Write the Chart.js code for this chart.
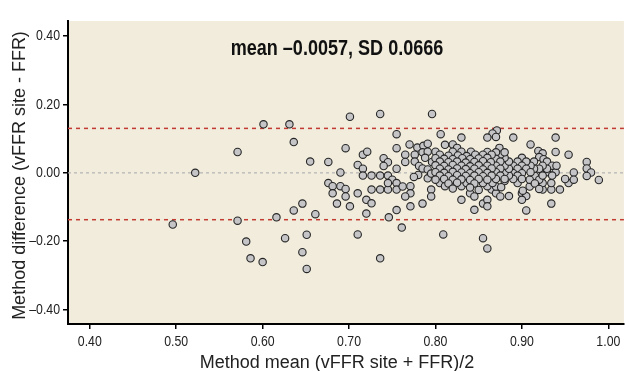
<!DOCTYPE html>
<html>
<head>
<meta charset="utf-8">
<title>Bland-Altman vFFR vs FFR</title>
<script src="https://cdn.jsdelivr.net/npm/chart.js@4/dist/chart.umd.min.js"></script>
<style>
  html, body { margin: 0; padding: 0; background: #fff; }
  .chart-frame { position: relative; width: 629px; height: 371px; }
</style>
</head>
<body>
<div class="chart-frame"><canvas id="baChart"></canvas></div>
<script>
// axis ticks and limits
const xTicks = [0.40, 0.50, 0.60, 0.70, 0.80, 0.90, 1.00];
const yTicks = [-0.40, -0.20, 0.00, 0.20, 0.40];
const xRange = [0.3748, 1.018];
const yRange = [-0.442, 0.444];

// reference lines: zero line and limits of agreement
const zeroLine = 0.0;
const limits = [0.130, -0.137];
const statsLabel = 'mean \u20130.0057, SD 0.0666';
const xTitle = 'Method mean (vFFR site + FFR)/2';
const yTitle = 'Method difference (vFFR site - FFR)';

// [mean, difference] pairs
const lowRangePoints = [
  [0.496,-0.151],[0.522,0.000],[0.571,0.061],[0.571,-0.140],[0.581,-0.201],[0.586,-0.250],
  [0.600,-0.261],[0.601,0.142],[0.616,-0.130],[0.626,-0.191],[0.631,0.142],[0.636,0.090],
  [0.636,-0.110],[0.646,-0.090],[0.646,-0.232],[0.651,-0.181],[0.651,-0.281],[0.655,0.033],
  [0.661,-0.121]
];

const midRangePoints = [
  [0.701,0.164],[0.736,0.172],[0.796,0.172],[0.755,0.113],[0.806,0.113],[0.830,0.103],
  [0.696,0.072],[0.755,0.072],[0.770,0.083],[0.779,0.074],[0.786,0.079],[0.791,0.085],
  [0.785,0.060],[0.791,0.062],[0.811,0.082],[0.820,0.083],[0.825,0.073],
  [0.716,0.053],[0.721,0.062],[0.676,0.032],[0.710,0.023],[0.716,0.012],[0.740,0.043],
  [0.745,0.031],[0.740,0.020],[0.765,0.053],[0.765,0.032],[0.776,0.053],[0.776,0.033],
  [0.781,0.020],[0.690,0.001],[0.755,0.012],[0.716,-0.008],[0.726,-0.008],[0.736,-0.008],
  [0.745,-0.008],[0.785,0.013],[0.791,0.010],[0.791,-0.016],[0.780,-0.006],[0.750,-0.020],
  [0.775,-0.012],[0.796,0.032],[0.795,-0.002],[0.788,0.044],
  [0.676,-0.030],[0.681,-0.039],[0.690,-0.039],[0.696,-0.047],[0.681,-0.060],[0.696,-0.069],
  [0.686,-0.090],[0.701,-0.098],[0.710,-0.060],[0.720,-0.079],[0.726,-0.089],[0.720,-0.119],
  [0.726,-0.049],[0.736,-0.049],[0.745,-0.049],[0.745,-0.030],[0.755,-0.030],[0.755,-0.049],
  [0.762,-0.040],[0.771,-0.039],[0.771,-0.060],[0.765,-0.069],[0.771,-0.098],[0.755,-0.109],
  [0.746,-0.130],[0.761,-0.160],[0.710,-0.180],[0.736,-0.250],[0.809,-0.180],[0.785,-0.090],
  [0.795,-0.049],[0.795,-0.069],[0.805,-0.030],[0.811,-0.039],[0.830,-0.039],[0.830,-0.079]
];

const lowerBandPoints = [
  [0.840,-0.060],[0.845,-0.069],[0.855,-0.090],[0.860,-0.079],[0.860,-0.098],[0.845,-0.108],
  [0.855,-0.191],[0.860,-0.221],[0.865,-0.049],[0.870,-0.060],[0.875,-0.069],[0.885,-0.068],
  [0.900,-0.060],[0.905,-0.068],[0.900,-0.079],[0.905,-0.110],[0.909,-0.040],[0.924,-0.049],
  [0.934,-0.049],[0.944,-0.049],[0.934,-0.090],[0.924,-0.030],[0.934,-0.030],[0.954,-0.030],
  [0.989,-0.021],[0.860,-0.039],[0.870,-0.040],[0.866,-0.030],[0.855,-0.030],[0.836,-0.030],
  [0.895,-0.030],[0.914,-0.027],[0.880,-0.024]
];

const highRangePoints = [
  [0.871,0.124],[0.866,0.115],[0.860,0.103],[0.870,0.105],[0.890,0.103],[0.939,0.103],
  [0.910,0.083],[0.874,0.073],[0.919,0.064],[0.939,0.061],[0.954,0.053],[0.924,0.057],
  [0.920,0.046],[0.925,0.040],[0.975,0.032],[0.975,0.013],[0.980,0.001],[0.975,-0.009],
  [0.960,0.001],[0.950,-0.018],[0.960,-0.020],[0.929,0.002],[0.939,0.002],[0.915,-0.009],
  [0.920,-0.020],[0.909,-0.020],[0.915,-0.031],[0.901,-0.052],
  [0.900,0.044],[0.914,0.033],[0.929,0.033],[0.935,0.021],[0.940,0.021],[0.929,0.012],
  [0.924,0.021],[0.920,0.012],[0.914,0.012],[0.910,0.021],[0.905,0.033],[0.895,0.033],
  [0.900,0.021],[0.890,0.021],[0.895,0.012],[0.905,0.012],[0.910,0.002],[0.900,-0.001],
  [0.890,-0.001],[0.924,-0.008],[0.935,-0.008],[0.895,-0.008],[0.890,-0.018],[0.900,-0.018],
  [0.885,-0.008],[0.880,0.002],[0.885,0.012],[0.880,0.021],[0.885,0.033],[0.880,0.044],
  [0.875,0.053],[0.880,0.060],[0.870,0.060],[0.870,0.041],[0.875,0.033],[0.870,0.021],
  [0.875,0.012],[0.870,0.002],[0.875,-0.008],[0.870,-0.018],[0.880,-0.018],[0.876,-0.042],
  [0.920,-0.047]
];

const corePoints = [
  [0.800,0.062],[0.820,0.062],[0.830,0.062],[0.841,0.062],[0.860,0.061],
  [0.805,0.053],[0.815,0.050],[0.826,0.051],[0.836,0.049],[0.846,0.053],[0.855,0.053],[0.865,0.053],
  [0.800,0.043],[0.810,0.041],[0.820,0.040],[0.831,0.043],[0.840,0.040],[0.850,0.042],[0.860,0.044],
  [0.805,0.033],[0.815,0.031],[0.825,0.033],[0.835,0.030],[0.845,0.032],[0.855,0.034],[0.864,0.031],
  [0.800,0.022],[0.810,0.020],[0.820,0.023],[0.830,0.021],[0.840,0.019],[0.850,0.022],[0.860,0.021],
  [0.805,0.012],[0.815,0.010],[0.825,0.013],[0.835,0.011],[0.845,0.012],[0.855,0.010],[0.865,0.013],
  [0.800,0.002],[0.810,0.000],[0.820,0.003],[0.830,0.001],[0.840,-0.001],[0.850,0.002],[0.860,0.000],
  [0.805,-0.008],[0.815,-0.010],[0.825,-0.007],[0.835,-0.009],[0.845,-0.008],[0.855,-0.010],[0.865,-0.008],
  [0.800,-0.020],[0.810,-0.018],[0.820,-0.020],[0.830,-0.019],[0.840,-0.021],[0.850,-0.018],[0.860,-0.020],
  [0.815,-0.031],[0.825,-0.029],[0.845,-0.031],
  [0.820,-0.046],[0.840,-0.043],[0.850,-0.050]
];

const allPoints = [...lowRangePoints, ...midRangePoints, ...lowerBandPoints, ...highRangePoints, ...corePoints];

const plainFont = "'Liberation Sans', Arial, sans-serif";
const NARROW = 0.82; // no narrow face installed, so squeeze Liberation Sans

const fmt = v => (v < -0.0001 ? '\u2013' : '') + Math.abs(v).toFixed(2);

function hLine(value, color, dash, width) {
  return {
    type: 'line',
    data: [{ x: xRange[0], y: value }, { x: xRange[1], y: value }],
    borderColor: color,
    borderWidth: width,
    borderDash: dash,
    pointRadius: 0,
    fill: false,
    order: 1
  };
}

function narrowText(ctx, text, x, y, align) {
  ctx.save();
  ctx.translate(x, y);
  ctx.scale(NARROW, 1);
  ctx.textAlign = align;
  ctx.fillText(text, 0, 0);
  ctx.restore();
}

const plotBackground = {
  id: 'plotBackground',
  beforeDraw(chart) {
    const { ctx, chartArea: a } = chart;
    ctx.save();
    ctx.fillStyle = '#f1ecdc';
    ctx.fillRect(a.left, a.top, a.right - a.left, a.bottom - a.top);
    ctx.restore();
  }
};

const plotText = {
  id: 'plotText',
  afterDraw(chart) {
    const { ctx, chartArea: a, scales } = chart;
    ctx.save();

    // tick labels
    ctx.fillStyle = '#222';
    ctx.font = '15px ' + plainFont;
    ctx.textBaseline = 'middle';
    xTicks.forEach(v => narrowText(ctx, fmt(v), scales.x.getPixelForValue(v), a.bottom + 18, 'center'));
    yTicks.forEach(v => narrowText(ctx, fmt(v), a.left - 8, scales.y.getPixelForValue(v), 'right'));

    // stats label
    ctx.fillStyle = '#111';
    ctx.font = 'bold 22px ' + plainFont;
    ctx.textBaseline = 'alphabetic';
    narrowText(ctx, statsLabel, 337, 55, 'center');

    // axis titles
    ctx.fillStyle = '#222';
    ctx.font = '18px ' + plainFont;
    ctx.textAlign = 'center';
    ctx.fillText(xTitle, 337, 368);
    ctx.translate(25, (29 + 322) / 2);
    ctx.rotate(-Math.PI / 2);
    ctx.fillText(yTitle, 0, 0);
    ctx.restore();
  }
};

const axisCommon = {
  type: 'linear',
  grid: { drawOnChartArea: false, drawTicks: true, tickLength: 5, color: '#000', lineWidth: 1.5 },
  border: { display: true, color: '#000', width: 2 },
  ticks: { display: false }
};

new Chart(document.getElementById('baChart'), {
  type: 'scatter',
  data: {
    datasets: [
      {
        data: allPoints.map(p => ({ x: p[0], y: p[1] })),
        pointRadius: 3.7,
        pointBorderWidth: 1.1,
        pointBackgroundColor: '#c5c5c7',
        pointBorderColor: '#262626',
        order: 0
      },
      hLine(zeroLine, '#b3b3b3', [3, 3], 1.2),
      hLine(limits[0], '#c23a32', [4, 4], 1.5),
      hLine(limits[1], '#c23a32', [4, 4], 1.5)
    ]
  },
  options: {
    responsive: true,
    maintainAspectRatio: false,
    animation: false,
    events: [],
    layout: { padding: { top: 21, left: 0, right: 0, bottom: 0 } },
    plugins: { legend: { display: false }, tooltip: { enabled: false } },
    scales: {
      x: {
        ...axisCommon,
        min: xRange[0],
        max: xRange[1],
        afterBuildTicks: s => { s.ticks = xTicks.map(v => ({ value: v })); },
        afterFit: s => { s.height = 47; }
      },
      y: {
        ...axisCommon,
        min: yRange[0],
        max: yRange[1],
        afterBuildTicks: s => { s.ticks = yTicks.map(v => ({ value: v })); },
        afterFit: s => { s.width = 68; }
      }
    }
  },
  plugins: [plotBackground, plotText]
});
</script>
</body>
</html>
